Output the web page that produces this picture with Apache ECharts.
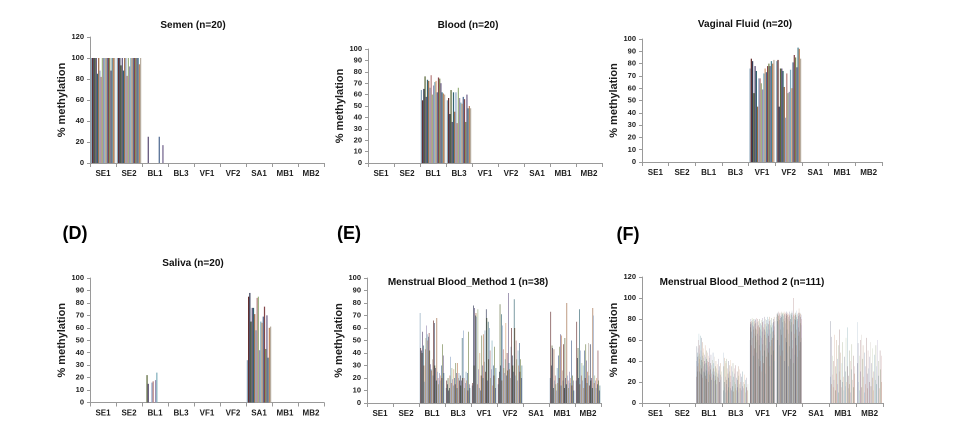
<!DOCTYPE html>
<html><head><meta charset="utf-8">
<script src="https://cdn.jsdelivr.net/npm/echarts@6/dist/echarts.min.js"></script>
<style>html,body{margin:0;padding:0;background:#fff}#c{width:969px;height:422px}</style>
</head><body><div id="c"></div>
<script>
const categories = ['SE1','SE2','BL1','BL3','VF1','VF2','SA1','MB1','MB2'];

// (A) Semen, n=20
const semenSE1 = [100,100,100,100,100,85,100,88,82,100,100,100,100,100,100,100,88,100,100,100];
const semenSE2 = [100,100,100,93,100,88,100,100,83,100,92,100,100,100,100,100,100,100,94,100];
const semenBL1 = [0,0,0,0,25,0,0,0,0,0,0,0,0,25,0,0,17,0,0,0];

// (B) Blood, n=20
const bloodBL1 = [64,55,65,76,58,73,72,66,77,60,68,71,72,62,75,74,70,62,61,60];
const bloodBL3 = [55,57,43,64,36,62,45,62,35,66,57,53,52,58,56,36,60,48,50,48];

// (C) Vaginal fluid, n=20
const vagVF1 = [76,84,82,56,78,74,45,68,68,64,59,72,76,73,78,80,78,82,80,83];
const vagVF2 = [82,83,45,76,76,74,61,36,72,56,57,75,60,81,87,85,77,93,92,84];

// (D) Saliva, n=20
const salivaBL1 = [0,0,0,22,15,0,0,16,17,0,18,24,0,0,0,0,0,0,0,0];
const salivaSA1 = [34,85,88,65,76,76,71,58,84,85,42,65,64,69,77,43,70,36,60,61];

// (E) Menstrual blood method 1, n=38
const mb1BL1 = [72,44,42,40,57,46,30,17,43,52,62,55,50,53,56,42,31,27,26,35,22,66,64,30,28,18,68,25,20,15,24,18,22,30,20,47,38,24];
const mb1BL3 = [12,18,15,20,10,12,22,37,16,28,19,14,27,20,15,32,24,12,32,20,24,18,22,14,18,52,20,58,20,12,16,25,18,24,10,57,15,12];
const mb1VF1 = [14,16,78,30,76,70,72,69,15,75,27,12,40,10,22,54,30,20,55,33,58,25,75,68,18,65,35,60,42,20,27,50,14,30,22,45,12,28];
const mb1VF2 = [15,20,25,79,30,71,18,62,43,28,24,35,64,22,40,26,88,32,27,20,45,60,38,30,25,83,60,22,50,35,18,42,30,48,25,35,20,30];
const mb1MB1 = [20,73,30,46,44,12,43,18,22,15,10,28,16,38,20,45,55,14,54,26,18,47,12,52,20,15,80,22,18,12,25,16,20,50,14,22,18,10];
const mb1MB2 = [18,65,36,44,20,75,15,42,22,32,18,30,12,42,20,47,34,16,25,48,22,14,47,18,20,12,76,70,16,22,18,12,20,15,42,18,10,14];

// (F) Menstrual blood method 2, n=111
const mb2BL1 = [
40,25,54,30,44,48,35,52,60,45,38,66,42,30,55,47,28,64,36,44,
50,33,62,41,27,45,58,39,24,48,35,43,52,30,40,29,46,37,55,32,
44,26,38,50,31,42,23,36,48,28,40,34,45,20,39,30,52,27,35,43,
25,38,0,32,46,22,0,36,28,41,0,30,24,48,33,0,27,38,21,44,
30,0,26,35,0,22,40,29,0,33,18,0,37,25,0,28,42,0,24,31,
0,20,35,0,27,0,38,22,0,30,25];
const mb2BL3 = [
48,0,12,35,0,20,43,15,0,40,25,10,38,0,22,42,18,0,33,12,
0,28,40,15,0,24,36,10,0,30,20,0,41,14,26,0,35,12,0,22,
30,0,16,38,0,25,11,0,33,20,0,28,14,0,36,18,0,24,0,12,
0,30,15,0,22,0,35,10,0,26,0,18,32,0,14,0,28,0,20,0,
12,0,25,0,16,30,0,0,20,0,14,0,27,0,0,18,0,22,0,10,
0,15,0,0,24,0,12,0,0,18,0];
const mb2VF1 = [
60,77,75,72,80,68,78,76,55,81,74,79,62,77,70,80,73,45,78,66,
75,52,80,71,79,64,76,58,81,70,48,77,73,66,80,60,74,42,78,69,
55,72,35,80,64,76,50,70,40,79,62,74,30,68,77,56,81,45,72,60,
78,38,70,65,82,50,75,28,68,80,55,73,62,79,44,76,66,82,52,70,
80,64,75,48,78,58,82,70,35,74,66,79,54,72,60,81,46,76,68,57,
74,62,80,50,77,69,82,40,73,65,78];
const mb2VF2 = [
82,85,78,84,60,86,83,75,87,80,84,55,85,79,86,70,83,81,45,87,
84,65,82,86,77,85,50,84,80,86,72,83,87,40,85,78,84,62,86,81,
76,85,58,83,87,70,84,48,86,80,82,66,85,35,84,78,87,54,83,74,
85,42,80,86,68,84,77,88,52,82,86,60,84,75,100,38,83,80,66,85,
46,84,79,86,62,82,70,88,55,84,78,85,44,80,86,64,83,72,90,50,
84,68,86,76,82,58,85,74,80,62,84];
const mb2MB1 = [
25,0,78,0,63,0,18,0,27,45,0,0,15,0,40,0,22,0,65,0,
0,12,0,35,0,0,60,0,28,0,18,0,0,42,0,55,0,10,0,30,
0,70,0,0,22,0,48,0,15,0,0,38,0,20,0,58,0,0,25,0,
12,0,44,0,0,30,0,16,0,62,0,0,20,0,35,0,0,72,0,14,
0,26,0,50,0,0,18,0,40,0,10,0,0,32,0,56,0,0,22,0,
0,45,0,15,0,0,28,0,35,0,0];
const mb2MB2 = [
77,0,38,0,57,0,0,20,0,45,0,12,0,0,60,0,30,0,0,65,
0,15,0,42,0,0,55,0,25,0,0,10,0,48,0,0,35,0,18,0,
0,62,0,0,28,0,14,0,50,0,0,33,0,0,20,0,44,0,0,58,
0,16,0,0,38,0,24,0,0,52,0,0,12,0,30,0,0,46,0,0,
22,0,0,55,0,18,0,35,0,0,60,0,0,26,0,40,0,0,14,0,
0,50,0,32,0,0,20,0,45,0,0];

const panelTitles = ['Semen (n=20)','Blood (n=20)','Vaginal Fluid (n=20)','Saliva (n=20)','Menstrual Blood_Method 1 (n=38)','Menstrual Blood_Method 2 (n=111)'];
const panelLetters = ['','','','(D)','(E)','(F)'];
const sampleCounts = [20,20,20,20,38,111];
const yMaxes = [120,100,100,100,100,120];
const yIntervals = [20,10,10,10,10,20];
const yAxisTitle = '% methylation';
const panelData = [
  {SE1: semenSE1, SE2: semenSE2, BL1: semenBL1},
  {BL1: bloodBL1, BL3: bloodBL3},
  {VF1: vagVF1, VF2: vagVF2},
  {BL1: salivaBL1, SA1: salivaSA1},
  {BL1: mb1BL1, BL3: mb1BL3, VF1: mb1VF1, VF2: mb1VF2, MB1: mb1MB1, MB2: mb1MB2},
  {BL1: mb2BL1, BL3: mb2BL3, VF1: mb2VF1, VF2: mb2VF2, MB1: mb2MB1, MB2: mb2MB2}
];

// ---- layout / style ----
const gridBoxes = [
  {left:90, top:37, width:234, height:126},
  {left:368, top:49, width:234, height:114},
  {left:642, top:39, width:240, height:123},
  {left:90, top:278, width:234, height:124.5},
  {left:367, top:278, width:234, height:125},
  {left:642, top:277, width:241, height:126}
];
const titlePos = [[193,25],[468,25],[745,24],[193,263],[468,282],[742,282]];
const letterPos = [null,null,null,[75,234],[349,234],[628,235]];
const palette = ['#8aa6bb','#642e2e','#333b58','#5a6839','#5a4c74','#336470','#9c6640','#93aacb','#b98080','#9eb484',
                 '#9c8fb5','#80afbd','#dca67c','#4d6890','#84464a','#76864f','#71628c','#4a8090','#c08660','#b8ad9f'];
const FONT = '"Liberation Sans", Arial, sans-serif';
const axisCol = '#9a9a9a';

const grid = [], xAxis = [], yAxis = [], series = [], graphic = [];
gridBoxes.forEach((g, p) => {
  grid.push(Object.assign({}, g));
  xAxis.push({
    type:'category', gridIndex:p, data:categories,
    axisLine:{show:true, lineStyle:{color:axisCol, width:1}},
    axisTick:{show:true, length:4, lineStyle:{color:axisCol}},
    axisLabel:{interval:0, fontSize:8, fontWeight:'bold', color:'#1e1e1e', fontFamily:FONT, margin:7},
    splitLine:{show:false}
  });
  yAxis.push({
    type:'value', gridIndex:p, min:0, max:yMaxes[p], interval:yIntervals[p],
    name:yAxisTitle, nameLocation:'middle', nameRotate:90, nameGap:20,
    nameTextStyle:{fontSize:11, fontWeight:'bold', color:'#1e1e1e', fontFamily:FONT},
    axisLine:{show:true, lineStyle:{color:axisCol, width:1}},
    axisTick:{show:true, length:3, lineStyle:{color:axisCol}},
    axisLabel:{fontSize:7.5, fontWeight:'bold', color:'#1e1e1e', fontFamily:FONT, margin:6},
    splitLine:{show:false}
  });
  const vals = panelData[p];
  for (let i = 0; i < sampleCounts[p]; i++) {
    series.push({
      type:'bar', xAxisIndex:p, yAxisIndex:p,
      barGap:'0%', barCategoryGap:'6%', barMinWidth:0.01,
      itemStyle:{color:palette[i % palette.length]},
      data:categories.map(c => vals[c] ? vals[c][i] : 0),
      silent:true
    });
  }
  graphic.push({type:'text', x:titlePos[p][0], y:titlePos[p][1],
    style:{text:panelTitles[p], fill:'#111', fontSize:10, fontWeight:'bold', fontFamily:FONT,
      align:'center', verticalAlign:'middle', textAlign:'center', textVerticalAlign:'middle'}});
  if (letterPos[p]) {
    graphic.push({type:'text', x:letterPos[p][0], y:letterPos[p][1],
      style:{text:panelLetters[p], fill:'#000', fontSize:18, fontWeight:'bold', fontFamily:FONT,
        align:'center', verticalAlign:'middle', textAlign:'center', textVerticalAlign:'middle'}});
  }
});

const chart = echarts.init(document.getElementById('c'), null, {renderer:'canvas', devicePixelRatio:2});
chart.setOption({
  animation:false, backgroundColor:'#ffffff',
  grid, xAxis, yAxis, series, graphic
});
</script>
</body></html>
